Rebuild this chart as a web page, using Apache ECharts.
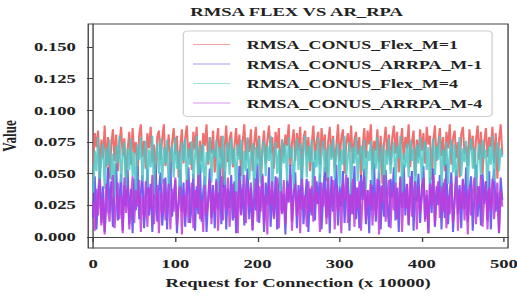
<!DOCTYPE html>
<html>
<head>
<meta charset="utf-8">
<script src="https://cdn.jsdelivr.net/npm/echarts@6/dist/echarts.min.js"></script>
<style>
  html, body { margin: 0; padding: 0; background: #fff; overflow: hidden; }
  /* the reference is stretched sideways, so draw narrow and widen it */
  #main { width: 375px; height: 298px; transform: scaleX(1.3787); transform-origin: 0 0; }
</style>
</head>
<body>
<div id="main"></div>
<script>
// series names as in the legend
const seriesNames = ['RMSA_CONUS_Flex_M=1', 'RMSA_CONUS_ARRPA_M-1', 'RMSA_CONUS_Flex_M=4', 'RMSA_CONUS_ARRPA_M-4'];
const xTicks = [0, 100, 200, 300, 400, 500];
const yTicks = [0, 0.025, 0.05, 0.075, 0.1, 0.125, 0.15];

// values, one every 2 requests
const flexM1 = [
  0.058,0.082,0.071,0.084,0.049,0.077,0.062,0.088,0.055,0.079,
  0.046,0.072,0.085,0.060,0.081,0.052,0.074,0.087,0.064,0.078,
  0.041,0.069,0.083,0.057,0.086,0.066,0.075,0.048,0.080,0.089,
  0.063,0.076,0.054,0.082,0.070,0.087,0.059,0.073,0.044,0.079,
  0.084,0.061,0.077,0.089,0.056,0.068,0.081,0.050,0.074,0.086,
  0.065,0.080,0.047,0.071,0.085,0.058,0.078,0.088,0.062,0.075,
  0.053,0.083,0.069,0.087,0.045,0.076,0.060,0.082,0.072,0.089,
  0.057,0.079,0.066,0.084,0.051,0.073,0.086,0.063,0.080,0.039,
  0.070,0.088,0.059,0.077,0.083,0.055,0.072,0.086,0.064,0.081,
  0.048,0.075,0.089,0.061,0.078,0.067,0.085,0.052,0.074,0.087,
  0.062,0.080,0.043,0.071,0.084,0.058,0.076,0.088,0.066,0.079,
  0.054,0.083,0.070,0.086,0.049,0.077,0.063,0.081,0.072,0.089,
  0.056,0.074,0.085,0.060,0.082,0.068,0.087,0.046,0.078,0.084,
  0.064,0.079,0.052,0.073,0.088,0.061,0.076,0.083,0.057,0.086,
  0.069,0.081,0.044,0.075,0.087,0.063,0.080,0.055,0.072,0.089,
  0.060,0.078,0.085,0.050,0.074,0.082,0.067,0.088,0.058,0.077,
  0.083,0.065,0.079,0.047,0.071,0.086,0.062,0.084,0.073,0.089,
  0.053,0.076,0.068,0.085,0.059,0.080,0.042,0.074,0.087,0.064,
  0.081,0.057,0.078,0.088,0.066,0.083,0.051,0.072,0.086,0.061,
  0.079,0.070,0.089,0.055,0.075,0.084,0.048,0.077,0.063,0.085,
  0.068,0.082,0.058,0.087,0.073,0.080,0.045,0.076,0.088,0.060,
  0.074,0.086,0.064,0.079,0.052,0.083,0.070,0.089,0.057,0.078,
  0.084,0.062,0.075,0.047,0.081,0.087,0.066,0.072,0.056,0.085,
  0.069,0.080,0.054,0.077,0.088,0.061,0.083,0.050,0.074,0.086,
  0.063,0.079,0.071,0.087,0.058,0.082,0.046,0.076,0.089,0.065
];
const arrpaM1 = [
  0.015,0.048,0.006,0.033,0.052,0.011,0.040,0.004,0.027,0.055,
  0.019,0.044,0.008,0.036,0.058,0.013,0.030,0.050,0.005,0.041,
  0.024,0.053,0.010,0.038,0.003,0.046,0.021,0.056,0.014,0.034,
  0.049,0.007,0.028,0.054,0.017,0.042,0.004,0.031,0.057,0.012,
  0.037,0.051,0.009,0.025,0.047,0.006,0.039,0.059,0.016,0.032,
  0.045,0.003,0.029,0.053,0.020,0.043,0.008,0.035,0.055,0.011,
  0.026,0.050,0.005,0.040,0.018,0.057,0.012,0.036,0.048,0.004,
  0.030,0.054,0.015,0.041,0.007,0.046,0.022,0.058,0.010,0.033,
  0.052,0.006,0.038,0.023,0.049,0.013,0.044,0.003,0.027,0.056,
  0.018,0.042,0.009,0.035,0.054,0.014,0.039,0.005,0.047,0.021,
  0.058,0.011,0.032,0.050,0.004,0.043,0.025,0.055,0.008,0.037,
  0.016,0.048,0.006,0.040,0.053,0.019,0.034,0.002,0.045,0.028,
  0.057,0.012,0.036,0.051,0.007,0.041,0.022,0.054,0.010,0.030,
  0.046,0.004,0.038,0.017,0.059,0.013,0.044,0.026,0.050,0.006,
  0.033,0.055,0.015,0.042,0.003,0.048,0.020,0.036,0.057,0.009,
  0.040,0.024,0.052,0.011,0.035,0.047,0.005,0.043,0.018,0.056,
  0.014,0.039,0.007,0.049,0.029,0.054,0.010,0.037,0.003,0.045,
  0.021,0.058,0.012,0.034,0.051,0.006,0.041,0.016,0.053,0.027,
  0.008,0.046,0.031,0.055,0.013,0.039,0.004,0.048,0.023,0.057,
  0.017,0.042,0.009,0.036,0.052,0.005,0.044,0.028,0.050,0.011,
  0.038,0.056,0.014,0.033,0.003,0.047,0.019,0.054,0.008,0.040,
  0.025,0.049,0.006,0.043,0.015,0.058,0.010,0.035,0.051,0.004,
  0.030,0.053,0.018,0.041,0.007,0.046,0.022,0.055,0.012,0.037,
  0.048,0.005,0.032,0.057,0.016,0.040,0.009,0.050,0.026,0.044,
  0.013,0.052,0.006,0.038,0.054,0.020,0.035,0.003,0.047,0.029
];
const flexM4 = [
  0.035,0.068,0.052,0.079,0.041,0.063,0.074,0.038,0.071,0.056,
  0.077,0.045,0.066,0.031,0.072,0.059,0.080,0.043,0.064,0.075,
  0.037,0.070,0.053,0.078,0.048,0.067,0.029,0.073,0.061,0.079,
  0.044,0.065,0.076,0.039,0.069,0.055,0.080,0.034,0.062,0.074,
  0.050,0.078,0.042,0.071,0.058,0.077,0.036,0.066,0.073,0.047,
  0.079,0.054,0.068,0.032,0.075,0.060,0.078,0.040,0.070,0.057,
  0.076,0.046,0.064,0.080,0.038,0.072,0.051,0.074,0.028,0.067,
  0.059,0.079,0.043,0.069,0.063,0.077,0.035,0.071,0.054,0.080,
  0.041,0.066,0.075,0.049,0.078,0.057,0.070,0.033,0.073,0.061,
  0.077,0.039,0.068,0.052,0.079,0.045,0.065,0.074,0.030,0.071,
  0.056,0.078,0.042,0.067,0.076,0.048,0.072,0.060,0.080,0.037,
  0.064,0.075,0.050,0.069,0.034,0.077,0.058,0.073,0.044,0.079,
  0.062,0.071,0.038,0.066,0.078,0.053,0.074,0.040,0.069,0.080,
  0.047,0.072,0.059,0.077,0.031,0.068,0.055,0.079,0.043,0.065,
  0.076,0.051,0.070,0.036,0.073,0.061,0.078,0.046,0.067,0.074,
  0.039,0.069,0.057,0.080,0.048,0.063,0.075,0.033,0.071,0.058,
  0.079,0.044,0.066,0.072,0.052,0.077,0.037,0.068,0.060,0.076,
  0.041,0.070,0.054,0.079,0.045,0.064,0.073,0.029,0.069,0.057,
  0.078,0.050,0.067,0.075,0.040,0.072,0.062,0.080,0.035,0.066,
  0.055,0.074,0.047,0.077,0.060,0.070,0.032,0.073,0.058,0.079,
  0.043,0.068,0.076,0.053,0.071,0.038,0.065,0.078,0.049,0.072,
  0.061,0.080,0.036,0.069,0.056,0.075,0.042,0.067,0.077,0.051,
  0.073,0.034,0.066,0.079,0.048,0.070,0.059,0.076,0.040,0.068,
  0.078,0.054,0.071,0.030,0.064,0.074,0.046,0.077,0.062,0.069,
  0.037,0.072,0.057,0.080,0.044,0.066,0.075,0.052,0.070,0.063
];
const arrpaM4 = [
  0.028,0.005,0.038,0.017,0.046,0.009,0.031,0.002,0.042,0.021,
  0.012,0.036,0.049,0.007,0.025,0.043,0.014,0.033,0.003,0.047,
  0.019,0.040,0.006,0.030,0.048,0.011,0.037,0.024,0.045,0.004,
  0.032,0.015,0.044,0.008,0.039,0.022,0.049,0.010,0.027,0.041,
  0.003,0.035,0.018,0.046,0.013,0.029,0.042,0.006,0.038,0.020,
  0.047,0.009,0.026,0.040,0.002,0.034,0.016,0.045,0.011,0.031,
  0.043,0.007,0.037,0.023,0.049,0.014,0.030,0.004,0.041,0.018,
  0.028,0.046,0.010,0.035,0.019,0.044,0.005,0.032,0.048,0.013,
  0.039,0.021,0.047,0.008,0.026,0.042,0.015,0.036,0.003,0.045,
  0.017,0.033,0.049,0.011,0.038,0.024,0.043,0.006,0.029,0.046,
  0.012,0.040,0.020,0.048,0.009,0.034,0.002,0.041,0.025,0.044,
  0.014,0.031,0.047,0.007,0.036,0.018,0.045,0.010,0.039,0.027,
  0.049,0.005,0.030,0.042,0.016,0.037,0.003,0.046,0.022,0.033,
  0.008,0.044,0.019,0.040,0.012,0.048,0.026,0.035,0.004,0.043,
  0.024,0.038,0.010,0.047,0.015,0.032,0.045,0.006,0.041,0.020,
  0.036,0.003,0.043,0.028,0.049,0.011,0.034,0.018,0.046,0.008,
  0.039,0.022,0.044,0.005,0.031,0.048,0.013,0.037,0.025,0.042,
  0.009,0.035,0.017,0.046,0.002,0.040,0.027,0.049,0.012,0.033,
  0.045,0.007,0.038,0.021,0.043,0.014,0.030,0.047,0.004,0.036,
  0.023,0.041,0.010,0.048,0.016,0.034,0.044,0.006,0.039,0.019,
  0.031,0.047,0.012,0.037,0.003,0.042,0.025,0.049,0.009,0.035,
  0.044,0.015,0.040,0.020,0.046,0.007,0.033,0.018,0.043,0.011,
  0.028,0.048,0.005,0.038,0.022,0.045,0.013,0.036,0.002,0.041,
  0.017,0.034,0.047,0.010,0.040,0.026,0.049,0.008,0.031,0.044,
  0.006,0.039,0.021,0.046,0.014,0.032,0.043,0.004,0.037,0.024
];
const colors = ['#ef5656', '#5a46f0', '#4ec6c6', '#be3cdc'];

// request index of each sample (every 2nd request)
const requests = flexM1.map((v, i) => i * 2);
const allValues = [flexM1, arrpaM1, flexM4, arrpaM4];

const font = 'Liberation Serif';
const chart = echarts.init(document.getElementById('main'), null, { renderer: 'svg' });

const option = {
    animation: false,
    backgroundColor: '#fff',
    title: {
        text: 'RMSA FLEX VS AR_RPA',
        left: 138,
        top: 5,
        padding: 0,
        textStyle: { fontFamily: font, fontWeight: 'bold', fontSize: 13.5, color: '#222' }
    },
    legend: {
        data: seriesNames,
        orient: 'vertical',
        left: 133,
        top: 31,
        padding: [6, 7, 6, 7],
        itemGap: 4.5,
        itemWidth: 27,
        itemHeight: 1,
        icon: 'rect',
        itemStyle: { opacity: 0.55 },
        borderColor: '#d0d0d0',
        borderWidth: 1,
        borderRadius: 3,
        textStyle: { fontFamily: font, fontWeight: 'bold', fontSize: 13, lineHeight: 15, color: '#222', padding: [0, 0, 0, 7] }
    },
    grid: {
        left: 64, right: 6.5, top: 24, bottom: 50,
        outerBoundsMode: 'none',
        show: true, borderColor: '#444', borderWidth: 1
    },
    xAxis: {
        type: 'value',
        min: -6, max: 505,
        name: 'Request for Connection (x 10000)',
        nameLocation: 'middle',
        nameGap: 24,
        nameTextStyle: { fontFamily: font, fontWeight: 'bold', fontSize: 13.5, color: '#222' },
        axisLine: { lineStyle: { color: '#444' } },
        axisTick: { customValues: xTicks, length: 5, lineStyle: { color: '#444' } },
        axisLabel: { customValues: xTicks, margin: 9, fontFamily: font, fontWeight: 'bold', fontSize: 13.5, color: '#222' },
        splitLine: { show: false }
    },
    yAxis: {
        type: 'value',
        min: -0.0087, max: 0.1682,
        name: 'Value',
        nameLocation: 'middle',
        nameGap: 46,
        nameTextStyle: { fontFamily: font, fontWeight: 'bold', fontSize: 13, color: '#222' },
        axisLine: { show: true, lineStyle: { color: '#444' } },
        axisTick: { show: true, customValues: yTicks, length: 4.5, lineStyle: { color: '#444' } },
        axisLabel: {
            customValues: yTicks, margin: 9, fontFamily: font, fontWeight: 'bold', fontSize: 13.5, color: '#222',
            formatter: v => v.toFixed(3)
        },
        splitLine: { show: false }
    },
    series: seriesNames.map((name, k) => ({
        name: name,
        type: 'line',
        showSymbol: false,
        color: colors[k],
        lineStyle: { width: 1.5, opacity: 0.85 },
        data: requests.map((x, i) => [x, allValues[k][i]])
    }))
};
chart.setOption(option);
</script>
</body>
</html>
